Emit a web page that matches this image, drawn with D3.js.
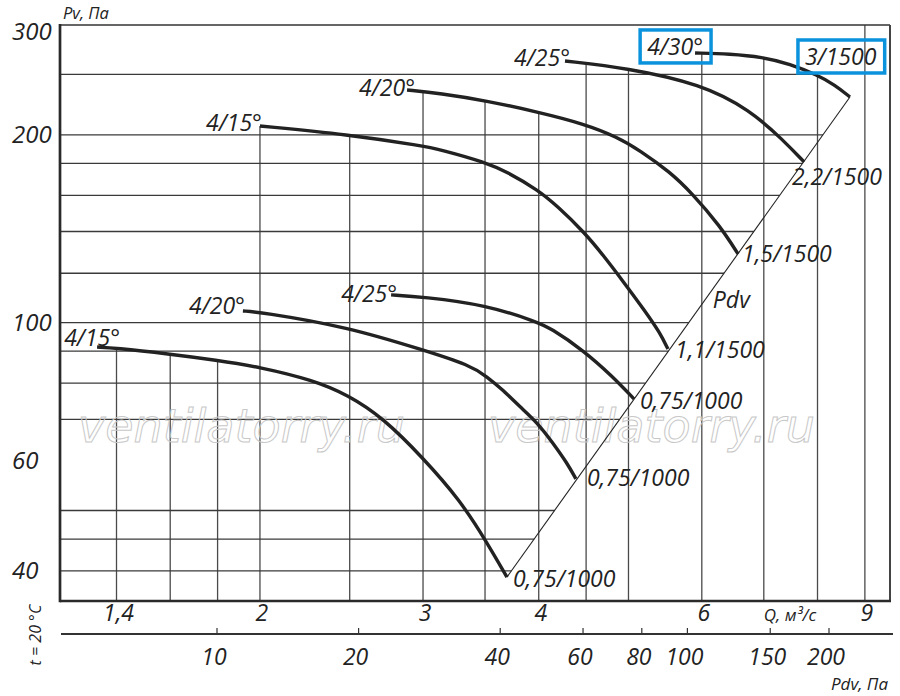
<!DOCTYPE html>
<html><head><meta charset="utf-8">
<script src="https://cdn.jsdelivr.net/npm/d3@7"></script>
<style>
body{margin:0;background:#fff}
text{font-family:"Open Sans",sans-serif;font-style:italic;fill:#222}
</style>
</head><body>
<svg id="c" width="900" height="696"></svg>
<script>
// ---------------- data ----------------
const qTickValues = [1.4, 2, 3, 4, 6, 9];
const qTickLabels = ["1,4", "2", "3", "4", "6", "9"];
const qGridValues = [1.4, 1.6, 1.8, 2, 2.5, 3, 3.5, 4, 4.5, 5, 6, 7, 8, 9];
const pTickValues = [300, 200, 100, 60, 40];
const pGridValues = [250, 200, 180, 160, 140, 120, 100, 90, 80, 70, 50, 45, 40];
const pdvTickValues = [10, 20, 40, 60, 80, 100, 150, 200];

// [Q m³/s, Pv Pa]
const high15 = [[2.000,206.7],[2.489,200.3],[3.000,192.0],[3.129,189.5],[3.508,180.7],[3.696,174.4],[3.992,163.2],[4.186,153.9],[4.477,139.7],[4.693,128.4],[4.920,117.1],[5.210,104.4],[5.408,96.3],[5.516,90.7]];
const high20 = [[2.883,236.0],[3.129,233.2],[3.508,226.9],[3.992,217.6],[4.477,208.3],[4.859,198.5],[5.145,188.8],[5.543,174.4],[5.854,161.3],[6.279,142.9],[6.565,128.9]];
const high25 = [[4.270,262.7],[4.980,256.0],[5.989,241.3],[6.764,219.2],[7.342,196.3],[7.737,181.0]];
const high30 = [[5.900,270.6],[6.436,269.6],[6.970,266.6],[7.472,259.8],[7.993,249.5],[8.356,240.4],[8.672,230.0]];
const low15  = [[1.334,91.4],[1.394,91.1],[1.595,89.1],[1.793,87.1],[2.000,84.9],[2.282,80.9],[2.489,76.6],[2.716,70.4],[3.000,60.7],[3.288,52.0],[3.518,44.4],[3.696,39.1]];
const low20  = [[1.917,104.4],[2.000,104.0],[2.489,98.4],[3.000,90.4],[3.371,85.5],[3.518,81.9],[3.659,78.0],[3.817,73.3],[3.982,69.3],[4.145,64.1],[4.291,59.6],[4.387,56.2]];
const low25  = [[2.771,110.8],[3.000,110.0],[3.508,106.8],[3.982,100.3],[4.114,98.1],[4.466,90.4],[4.810,81.9],[5.068,75.5]];

const curveSeries = [high15, high20, high25, high30, low15, low20, low25];
const bladeLabels = ["4/15°", "4/20°", "4/25°", "4/30°", "4/15°", "4/20°", "4/25°"];
const motorLabels = ["1,1/1500", "1,5/1500", "2,2/1500", "3/1500", "0,75/1000", "0,75/1000", "0,75/1000"];
const highlighted = [false, false, false, true, false, false, false];

// ---------------- layout ----------------
const L = 60, R = 890, T = 25, B = 601;
const AX2 = 634;
// label offsets (px) relative to curve start / end
const startOff = [[2,5],[8,6],[5,5],[8,2],[23,-1],[2,3],[6,7]];
const endOff   = [[7,9],[4,8],[-12,23],[-45,-32],[6,10],[11,7],[6,10]];

const svg = d3.select("#c");
const x = d3.scaleLog().domain([1.2165, 9.58]).range([L, R]);
const y = d3.scaleLog().domain([35.8, 300]).range([B, T]);
const xPdv = d3.scaleLog().domain([10, 200]).range([217, 829]);

const gGrid = svg.append("g");
const gMark = svg.append("g");
const gCurves = svg.append("g");
const gFrame = svg.append("g");
const gText = svg.append("g");

const line = d3.line().x(d => x(d[0])).y(d => y(d[1])).curve(d3.curveBasis);

const paths = curveSeries.map(s =>
  gCurves.append("path").attr("d", line(s)).attr("fill", "none")
    .attr("stroke", "#222").attr("stroke-width", 3.4).node());

// Pdv diagonal: from end of lowest curve to end of highest curve
const pdvEnds = [low15[low15.length - 1], high30[high30.length - 1]];
const diag = gCurves.append("path").attr("d", d3.line().x(d => x(d[0])).y(d => y(d[1]))(pdvEnds))
  .attr("fill", "none").attr("stroke", "#222").attr("stroke-width", 1.1).node();

function samplePath(node) {
  const len = node.getTotalLength(), pts = [];
  for (let s = 0; s <= len; s += 0.5) { const p = node.getPointAtLength(s); pts.push([p.x, p.y]); }
  const e = node.getPointAtLength(len); pts.push([e.x, e.y]);
  return pts;
}
const sampled = paths.concat([diag]).map(samplePath);

function crossV(pts, x0) {
  const out = [];
  for (let i = 1; i < pts.length; i++) {
    const a = pts[i - 1], b = pts[i];
    if ((a[0] - x0) * (b[0] - x0) <= 0 && a[0] !== b[0]) out.push(a[1] + (b[1] - a[1]) * (x0 - a[0]) / (b[0] - a[0]));
  }
  if (Math.abs(pts[0][0] - x0) < 0.8) out.push(pts[0][1]);
  return out;
}
function crossH(pts, y0) {
  const out = [];
  for (let i = 1; i < pts.length; i++) {
    const a = pts[i - 1], b = pts[i];
    if ((a[1] - y0) * (b[1] - y0) <= 0 && a[1] !== b[1]) out.push(a[0] + (b[0] - a[0]) * (y0 - a[1]) / (b[1] - a[1]));
  }
  return out;
}

// vertical grid: from bottom up to the top envelope
qGridValues.forEach(q => {
  const xv = x(q);
  let ys = [];
  sampled.forEach(p => ys = ys.concat(crossV(p, xv)));
  const top = ys.length ? Math.min(...ys) : T;
  gGrid.append("line").attr("x1", xv).attr("x2", xv).attr("y1", B).attr("y2", top)
    .attr("stroke", "#4a4a4a").attr("stroke-width", 1.3);
});
// horizontal grid: from left axis to the right envelope
pGridValues.forEach(p => {
  const yv = y(p);
  let xs = [];
  sampled.forEach(s => xs = xs.concat(crossH(s, yv)));
  const right = xs.length ? Math.max(...xs) : R;
  gGrid.append("line").attr("x1", L).attr("x2", right).attr("y1", yv).attr("y2", yv)
    .attr("stroke", "#3a3a3a").attr("stroke-width", 1.3);
});

// watermark
[78, 488].forEach(wx => {
  gMark.append("text").attr("x", wx).attr("y", 442).text("ventilatorry.ru")
    .style("font-family", "'DejaVu Sans',sans-serif").style("font-size", "46px")
    .style("font-style", "oblique").style("fill", "none").attr("stroke", "#c8c8c8").attr("stroke-width", 1);
});

// frame
gFrame.append("line").attr("x1", L).attr("x2", R).attr("y1", T).attr("y2", T).attr("stroke", "#333").attr("stroke-width", 1.7);
gFrame.append("line").attr("x1", R).attr("x2", R).attr("y1", T).attr("y2", B).attr("stroke", "#444").attr("stroke-width", 2);
gFrame.append("line").attr("x1", L).attr("x2", L).attr("y1", T - 1).attr("y2", B + 1.3).attr("stroke", "#2a2a2a").attr("stroke-width", 2.7);
gFrame.append("line").attr("x1", L).attr("x2", R + 1).attr("y1", B).attr("y2", B).attr("stroke", "#2a2a2a").attr("stroke-width", 2.7);

// second axis (Pdv)
gFrame.append("line").attr("x1", L + 1).attr("x2", 893).attr("y1", AX2).attr("y2", AX2).attr("stroke", "#333").attr("stroke-width", 2);
pdvTickValues.forEach(v => {
  gFrame.append("line").attr("x1", xPdv(v)).attr("x2", xPdv(v)).attr("y1", AX2 - 6).attr("y2", AX2)
    .attr("stroke", "#333").attr("stroke-width", 1.2);
  gText.append("text").attr("x", xPdv(v) - 3).attr("y", 665).attr("text-anchor", "middle")
    .style("font-size", "23px").text(v);
});

// y tick labels
pTickValues.forEach(v => {
  const yy = Math.max(y(v), T + 7);
  gText.append("text").attr("x", 12).attr("y", yy).attr("dy", "0.35em")
    .style("font-size", "24px").text(v);
});
// q tick labels
qTickValues.forEach((v, i) => {
  gText.append("text").attr("x", x(v) + 2).attr("y", 621).attr("text-anchor", "middle")
    .style("font-size", "23px").text(qTickLabels[i]);
});

// axis titles
gText.append("text").attr("x", 63).attr("y", 19).style("font-size", "16.5px").text("Pv, Па");
gText.append("text").attr("x", 790).attr("y", 621).attr("text-anchor", "middle").style("font-size", "17px").text("Q, м³/с");
gText.append("text").attr("x", 888).attr("y", 690).attr("text-anchor", "end").style("font-size", "17px").text("Pdv, Па");
gText.append("text").attr("transform", "translate(41,635) rotate(-90)").attr("text-anchor", "middle")
  .style("font-size", "16px").text("t = 20 °C");

// curve labels
const boxes = [];
curveSeries.forEach((s, i) => {
  const st = s[0], en = s[s.length - 1];
  const t1 = gText.append("text").attr("x", x(st[0]) + startOff[i][0]).attr("y", y(st[1]) + startOff[i][1])
    .attr("text-anchor", "end").style("font-size", "23px").text(bladeLabels[i]);
  const t2 = gText.append("text").attr("x", x(en[0]) + endOff[i][0]).attr("y", y(en[1]) + endOff[i][1])
    .attr("text-anchor", "start").style("font-size", "23px").text(motorLabels[i]);
  if (highlighted[i]) { boxes.push(t1.node()); boxes.push(t2.node()); }
});

// Pdv label along the diagonal
const pa = [x(pdvEnds[0][0]), y(pdvEnds[0][1])], pb = [x(pdvEnds[1][0]), y(pdvEnds[1][1])];
const tt = 0.577;
gText.append("text").attr("x", pa[0] + (pb[0] - pa[0]) * tt + 8).attr("y", pa[1] + (pb[1] - pa[1]) * tt + 8)
  .style("font-size", "23px").text("Pdv");

// highlight boxes
boxes.forEach(n => {
  const b = n.getBBox();
  svg.append("rect").attr("x", b.x - 7).attr("y", b.y).attr("width", b.width + 15).attr("height", b.height + 1)
    .attr("fill", "none").attr("stroke", "#0a93dc").attr("stroke-width", 3.5);
});
</script>
</body></html>
